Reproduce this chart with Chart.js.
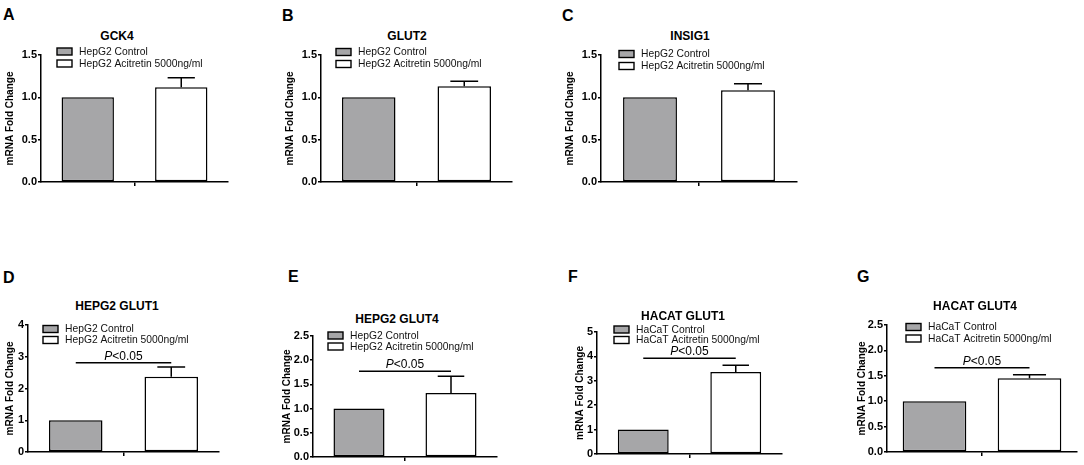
<!DOCTYPE html>
<html><head><meta charset="utf-8">
<script src="https://cdn.jsdelivr.net/npm/chart.js@4.4.1/dist/chart.umd.min.js"></script>
<style>
html,body{margin:0;padding:0;background:#fff;}
#wrap{position:relative;width:1084px;height:465px;overflow:hidden;font-family:"Liberation Sans",Arial,sans-serif;color:#000;}
canvas{position:absolute;}
.lbl{position:absolute;font-weight:bold;font-size:16px;line-height:1;}
.ttl{position:absolute;font-weight:bold;font-size:12px;line-height:1;transform:translate(-50%,-50%);white-space:nowrap;}
</style></head><body><div id="wrap"></div>
<script>
// ---- data ----
const panelLetters = ['A','B','C','D','E','F','G'];
const panelTitles = ['GCK4','GLUT2','INSIG1','HEPG2 GLUT1','HEPG2 GLUT4','HACAT GLUT1','HACAT GLUT4'];
const controlLabels = ['HepG2 Control','HepG2 Control','HepG2 Control','HepG2 Control','HepG2 Control','HaCaT Control','HaCaT Control'];
const treatedLabels = ['HepG2 Acitretin 5000ng/ml','HepG2 Acitretin 5000ng/ml','HepG2 Acitretin 5000ng/ml','HepG2 Acitretin 5000ng/ml','HepG2 Acitretin 5000ng/ml','HaCaT Acitretin 5000ng/ml','HaCaT Acitretin 5000ng/ml'];
const controlValues = [1.0, 1.0, 1.0, 1.0, 1.0, 1.0, 1.0];
const treatedValues = [1.12, 1.13, 1.085, 2.37, 1.32, 3.36, 1.45];
const treatedErrors = [0.11, 0.06, 0.075, 0.31, 0.35, 0.28, 0.07];
const yMaxValues = [1.5, 1.5, 1.5, 4, 2.5, 5, 2.5];
const yStepValues = [0.5, 0.5, 0.5, 1, 0.5, 1, 0.5];
const sigLevels = [null, null, null, 2.81, 1.77, 3.92, 1.66];
const sigLabel = ['P', '<0.05'];
const yAxisTitle = 'mRNA Fold Change';

// ---- layout (page pixels) ----
const geom = [
  {L:41, R:228, T:55, B:182, yW:37, bp:0.56, letter:[3,7], title:[117,36], leg:[57,51.5,63.5]},
  {L:321,R:512, T:55, B:182, yW:37, bp:0.56, letter:[282,8], title:[407,36], leg:[336,52,64]},
  {L:601,R:797, T:55, B:182, yW:37, bp:0.55, letter:[562,8], title:[690,36], leg:[619,54,66]},
  {L:28, R:219, T:325,B:452, yW:24, bp:0.56, letter:[3,270], title:[117,306], leg:[43,329,340]},
  {L:313,R:497, T:336,B:457, yW:32, bp:0.555, letter:[288,269], title:[397,318.5], leg:[328,335.5,346.5]},
  {L:597,R:782, T:332,B:454, yW:23, bp:0.55, letter:[568,269], title:[683,316], leg:[614,329.5,340]},
  {L:887,R:1077,T:325,B:452, yW:31, bp:0.67, letter:[857,269], title:[975,306], leg:[906,327,338.5]}
];
const PAD_TOP = 10, PAD_RIGHT = 6, X_H = 8;
const GRAY = '#a6a6a8';

Chart.defaults.font.family = '"Liberation Sans", Arial, sans-serif';
Chart.defaults.animation = false;

const errorBarPlugin = {
  id: 'errbars',
  afterDatasetsDraw(chart) {
    const {ctx} = chart; const ys = chart.scales.y;
    chart.data.datasets.forEach((ds, di) => {
      if (!ds.errors) return;
      chart.getDatasetMeta(di).data.forEach((bar, i) => {
        const v = ds.data[i], e = ds.errors[i];
        if (!e) return;
        const yT = ys.getPixelForValue(v + e), yB = ys.getPixelForValue(v);
        const half = bar.width * 0.26;
        ctx.save(); ctx.strokeStyle = '#000'; ctx.lineWidth = 1.5;
        ctx.beginPath(); ctx.moveTo(bar.x, yB); ctx.lineTo(bar.x, yT);
        ctx.moveTo(bar.x - half, yT); ctx.lineTo(bar.x + half, yT); ctx.stroke(); ctx.restore();
      });
    });
  }
};

const sigPlugin = {
  id: 'sig',
  afterDatasetsDraw(chart, args, opts) {
    if (opts.level == null) return;
    const {ctx} = chart; const ys = chart.scales.y;
    const x0 = chart.getDatasetMeta(0).data[0].x, x1 = chart.getDatasetMeta(1).data[0].x;
    const y = ys.getPixelForValue(opts.level);
    ctx.save(); ctx.strokeStyle = '#000'; ctx.lineWidth = 1.5;
    ctx.beginPath(); ctx.moveTo(x0, y); ctx.lineTo(x1, y); ctx.stroke();
    const f1 = 'italic 12px "Liberation Sans", Arial, sans-serif', f2 = '12px "Liberation Sans", Arial, sans-serif';
    ctx.font = f1; const w1 = ctx.measureText(sigLabel[0]).width;
    ctx.font = f2; const w2 = ctx.measureText(sigLabel[1]).width;
    let sx = (x0 + x1) / 2 - (w1 + w2) / 2;
    ctx.fillStyle = '#000'; ctx.textBaseline = 'alphabetic'; ctx.textAlign = 'left';
    ctx.font = f1; ctx.fillText(sigLabel[0], sx, y - 3);
    ctx.font = f2; ctx.fillText(sigLabel[1], sx + w1, y - 3);
    ctx.restore();
  }
};

const legendPlugin = {
  id: 'boxlegend',
  afterDraw(chart, args, opts) {
    const {ctx} = chart;
    chart.data.datasets.forEach((ds, i) => {
      const x = opts.x, y = opts.ys[i];
      ctx.save();
      ctx.fillStyle = ds.backgroundColor; ctx.strokeStyle = '#000'; ctx.lineWidth = 1.4;
      ctx.fillRect(x, y - 3.5, 15, 7); ctx.strokeRect(x, y - 3.5, 15, 7);
      ctx.fillStyle = '#111'; ctx.font = '10.3px "Liberation Sans", Arial, sans-serif';
      ctx.textBaseline = 'middle'; ctx.textAlign = 'left';
      ctx.fillText(ds.label, x + 22, y + 0.5);
      ctx.restore();
    });
  }
};

const wrap = document.getElementById('wrap');
geom.forEach((g, p) => {
  const left = g.L - g.yW, top = g.T - PAD_TOP;
  const w = g.R - g.L + g.yW + PAD_RIGHT, h = g.B - g.T + PAD_TOP + X_H;
  const cv = document.createElement('canvas');
  cv.width = w; cv.height = h; cv.style.left = left + 'px'; cv.style.top = top + 'px';
  cv.style.width = w + 'px'; cv.style.height = h + 'px';
  wrap.appendChild(cv);

  const letter = document.createElement('div'); letter.className = 'lbl';
  letter.textContent = panelLetters[p]; letter.style.left = g.letter[0] + 'px'; letter.style.top = g.letter[1] + 'px';
  wrap.appendChild(letter);
  const ttl = document.createElement('div'); ttl.className = 'ttl';
  ttl.textContent = panelTitles[p]; ttl.style.left = g.title[0] + 'px'; ttl.style.top = g.title[1] + 'px';
  wrap.appendChild(ttl);

  const step = yStepValues[p];
  new Chart(cv, {
    type: 'bar',
    data: {
      labels: [''],
      datasets: [
        {label: controlLabels[p], data: [controlValues[p]], backgroundColor: GRAY, borderColor: '#000', borderWidth: 1.5, borderSkipped: false, categoryPercentage: 1, barPercentage: g.bp},
        {label: treatedLabels[p], data: [treatedValues[p]], errors: [treatedErrors[p]], backgroundColor: '#ffffff', borderColor: '#000', borderWidth: 1.5, borderSkipped: false, categoryPercentage: 1, barPercentage: g.bp}
      ]
    },
    options: {
      responsive: false, animation: false, devicePixelRatio: 1,
      layout: {padding: {top: PAD_TOP, right: PAD_RIGHT, left: 0, bottom: 0}},
      plugins: {legend: {display: false}, tooltip: {enabled: false},
        sig: {level: sigLevels[p]},
        boxlegend: {x: g.leg[0] - left, ys: [g.leg[1] - top, g.leg[2] - top]}},
      scales: {
        x: {
          type: 'category',
          grid: {display: true, drawOnChartArea: false, offset: false, tickLength: 4, color: '#000', lineWidth: 1.5},
          border: {display: true, color: '#000', width: 1.5},
          ticks: {display: true, font: {size: 1}, padding: 0},
          afterFit(s) { s.height = X_H; s.paddingLeft = 0; s.paddingRight = 0; }
        },
        y: {
          min: 0, max: yMaxValues[p],
          grid: {display: true, drawOnChartArea: false, tickLength: 3, color: '#000', lineWidth: 1.5},
          border: {display: true, color: '#000', width: 1.5},
          ticks: {stepSize: step, color: '#000', padding: 1, font: {size: 11, weight: 'bold'},
            callback: v => step < 1 ? Number(v).toFixed(1) : String(v)},
          title: {display: true, text: yAxisTitle, color: '#000', padding: 0, font: {size: 10, weight: 'bold', lineHeight: 1.2}},
          afterFit(s) { s.width = g.yW; s.paddingTop = 0; s.paddingBottom = 0; }
        }
      }
    },
    plugins: [errorBarPlugin, sigPlugin, legendPlugin]
  });
});
</script></body></html>
